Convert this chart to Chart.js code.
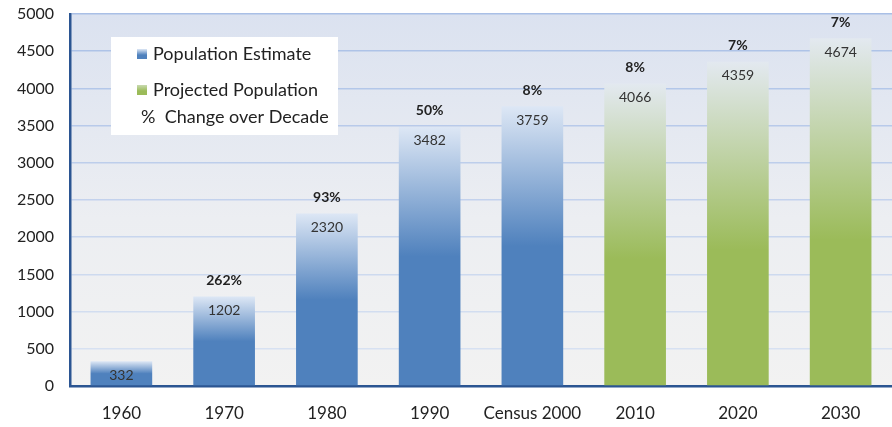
<!DOCTYPE html>
<html>
<head>
<meta charset="utf-8">
<script src="https://cdn.jsdelivr.net/npm/chart.js@4.4.1/dist/chart.umd.min.js"></script>
<style>
  html, body { margin: 0; padding: 0; background: #fff; }
  #wrap { width: 892px; height: 427px; }
</style>
</head>
<body>
<div id="wrap"><canvas id="popChart" width="892" height="427"></canvas></div>
<script>
// chart data
const categories = ["1960", "1970", "1980", "1990", "Census 2000", "2010", "2020", "2030"];
const estimate   = [332, 1202, 2320, 3482, 3759, null, null, null];
const projected  = [null, null, null, null, null, 4066, 4359, 4674];
const pctChange  = ["", "262%", "93%", "50%", "8%", "8%", "7%", "7%"];
const yMax = 5000;
const yStep = 500;

const FONT = "Lato, 'Open Sans', sans-serif";
const BLUE = "#4f81bd", BLUE_LIGHT = "#dde7f5";
const GREEN = "#9bbb59", GREEN_LIGHT = "#e3e9f0";

// vertical gradient per bar: light at top, solid from the middle down
function barFill(ctx, base, light, stop) {
  const chart = ctx.chart;
  if (!chart.chartArea || ctx.raw == null) return base;
  const y = chart.scales.y;
  const top = y.getPixelForValue(ctx.raw);
  const bottom = y.getPixelForValue(0);
  const g = chart.ctx.createLinearGradient(0, bottom, 0, top);
  g.addColorStop(0, base);
  g.addColorStop(stop, base);
  g.addColorStop(1, light);
  return g;
}

function mix(a, b, t) {
  const pa = a.match(/\w\w/g).map(h => parseInt(h, 16));
  const pb = b.match(/\w\w/g).map(h => parseInt(h, 16));
  return "rgb(" + pa.map((v, i) => Math.round(v + (pb[i] - v) * t)).join(",") + ")";
}

const plotBackground = {
  id: "plotBackground",
  beforeDraw(chart) {
    const { ctx, chartArea: a } = chart;
    const g = ctx.createLinearGradient(0, a.top, 0, a.bottom);
    g.addColorStop(0, "#dbe2f0");
    g.addColorStop(0.55, "#eceef2");
    g.addColorStop(1, "#f2f2f2");
    ctx.save();
    ctx.fillStyle = g;
    ctx.fillRect(a.left, a.top, a.right - a.left, a.bottom - a.top);
    ctx.restore();
  }
};

const barLabels = {
  id: "barLabels",
  afterDatasetsDraw(chart) {
    const ctx = chart.ctx;
    ctx.save();
    ctx.textAlign = "center";
    ctx.textBaseline = "middle";
    chart.data.datasets.forEach((ds, di) => {
      chart.getDatasetMeta(di).data.forEach((el, i) => {
        const v = ds.data[i];
        if (v == null) return;
        ctx.fillStyle = "#333";
        ctx.font = "14px " + FONT;
        ctx.fillText(String(v), el.x, el.y + 14);
        if (pctChange[i]) {
          ctx.fillStyle = "#222";
          ctx.font = "bold 14px " + FONT;
          ctx.fillText(pctChange[i], el.x, el.y - 16);
        }
      });
    });
    ctx.restore();
  }
};

const boxLegend = {
  id: "boxLegend",
  afterDraw(chart) {
    const ctx = chart.ctx;
    ctx.save();
    ctx.fillStyle = "#fff";
    ctx.fillRect(111, 37, 227, 98);
    ctx.font = "18px " + FONT;
    ctx.textBaseline = "middle";
    ctx.textAlign = "left";
    const items = [
      { color: BLUE, light: BLUE_LIGHT, text: chart.data.datasets[0].label, y: 54 },
      { color: GREEN, light: "#c9dab0", text: chart.data.datasets[1].label, y: 90 }
    ];
    items.forEach(it => {
      const g = ctx.createLinearGradient(0, it.y - 5, 0, it.y + 5);
      g.addColorStop(0, it.light);
      g.addColorStop(0.6, it.color);
      g.addColorStop(1, it.color);
      ctx.fillStyle = g;
      ctx.fillRect(137, it.y - 5, 10, 10);
      ctx.fillStyle = "#222";
      ctx.fillText(it.text, 153, it.y);
    });
    ctx.fillText("%  Change over Decade", 141, 117);
    ctx.restore();
  }
};

new Chart(document.getElementById("popChart"), {
  type: "bar",
  data: {
    labels: categories,
    datasets: [
      {
        label: "Population Estimate",
        data: estimate,
        backgroundColor: ctx => barFill(ctx, BLUE, BLUE_LIGHT, 0.5)
      },
      {
        label: "Projected Population",
        data: projected,
        backgroundColor: ctx => barFill(ctx, GREEN, GREEN_LIGHT, 0.42)
      }
    ]
  },
  options: {
    responsive: false,
    animation: false,
    layout: { padding: { top: 14, right: 0, left: 0, bottom: 0 } },
    datasets: { bar: { grouped: false, categoryPercentage: 1, barPercentage: 0.6 } },
    plugins: {
      legend: { display: false },
      tooltip: { enabled: false }
    },
    scales: {
      x: {
        grid: { display: false, drawTicks: false },
        border: { color: "#2b5592", width: 2.5 },
        ticks: {
          color: "#222",
          font: { family: FONT, size: 17 },
          padding: 17,
          autoSkip: false,
          minRotation: 0,
          maxRotation: 0
        },
        afterFit(scale) { scale.height = 41; }
      },
      y: {
        min: 0,
        max: yMax,
        grid: {
          drawTicks: false,
          lineWidth: 1.5,
          color: c => mix("dce5f3", "a9bfe6", c.tick.value / yMax)
        },
        border: { color: "#2b5592", width: 2.5 },
        ticks: {
          stepSize: yStep,
          color: "#222",
          font: { family: FONT, size: 16 },
          padding: 16,
          callback: v => String(v)
        },
        afterFit(scale) {
          scale.width = 70;
          scale.paddingTop = 0;
          scale.paddingBottom = 0;
        }
      }
    }
  },
  plugins: [plotBackground, barLabels, boxLegend]
});
</script>
</body>
</html>
